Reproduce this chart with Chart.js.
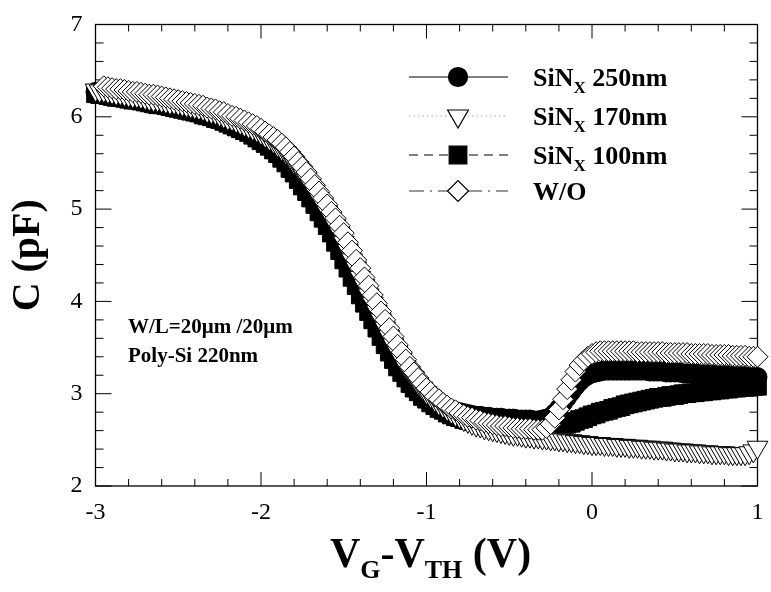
<!DOCTYPE html>
<html lang="en">
<head>
<meta charset="UTF-8">
<title>C-V curves, SiNx capping layers</title>
<style>
  html, body { margin: 0; padding: 0; background: #fff; }
  #box { width: 771px; height: 592px; }
  canvas { display: block; }
</style>
<script src="https://cdn.jsdelivr.net/npm/chart.js"></script>
</head>
<body>
<div id="box"><canvas id="cv" width="771" height="592"></canvas></div>
<script>
// gate sweep, V_G - V_TH (V)
const xValues = [
  -3,-2.975,-2.95,-2.925,-2.9,-2.875,-2.85,-2.825,
  -2.8,-2.775,-2.75,-2.725,-2.7,-2.675,-2.65,-2.625,
  -2.6,-2.575,-2.55,-2.525,-2.5,-2.475,-2.45,-2.425,
  -2.4,-2.375,-2.35,-2.325,-2.3,-2.275,-2.25,-2.225,
  -2.2,-2.175,-2.15,-2.125,-2.1,-2.075,-2.05,-2.025,
  -2,-1.975,-1.95,-1.925,-1.9,-1.875,-1.85,-1.825,
  -1.8,-1.775,-1.75,-1.725,-1.7,-1.675,-1.65,-1.625,
  -1.6,-1.575,-1.55,-1.525,-1.5,-1.475,-1.45,-1.425,
  -1.4,-1.375,-1.35,-1.325,-1.3,-1.275,-1.25,-1.225,
  -1.2,-1.175,-1.15,-1.125,-1.1,-1.075,-1.05,-1.025,
  -1,-0.975,-0.95,-0.925,-0.9,-0.875,-0.85,-0.825,
  -0.8,-0.775,-0.75,-0.725,-0.7,-0.675,-0.65,-0.625,
  -0.6,-0.575,-0.55,-0.525,-0.5,-0.475,-0.45,-0.425,
  -0.4,-0.375,-0.35,-0.325,-0.3,-0.275,-0.25,-0.225,
  -0.2,-0.175,-0.15,-0.125,-0.1,-0.075,-0.05,-0.025,
  0,0.025,0.05,0.075,0.1,0.125,0.15,0.175,
  0.2,0.225,0.25,0.275,0.3,0.325,0.35,0.375,
  0.4,0.425,0.45,0.475,0.5,0.525,0.55,0.575,
  0.6,0.625,0.65,0.675,0.7,0.725,0.75,0.775,
  0.8,0.825,0.85,0.875,0.9,0.925,0.95,0.975,
  1
];

// C (pF), SiNx 250nm
const c250 = [
  6.27,6.26,6.25,6.25,6.24,6.23,6.22,6.22,
  6.21,6.20,6.19,6.19,6.18,6.17,6.16,6.15,
  6.14,6.14,6.13,6.12,6.11,6.10,6.09,6.07,
  6.06,6.05,6.04,6.02,6.01,5.99,5.98,5.97,
  5.96,5.94,5.92,5.90,5.88,5.86,5.84,5.81,
  5.78,5.75,5.72,5.69,5.65,5.60,5.56,5.50,
  5.45,5.39,5.33,5.26,5.19,5.12,5.05,4.97,
  4.90,4.82,4.74,4.64,4.55,4.45,4.36,4.26,
  4.17,4.07,3.98,3.89,3.80,3.71,3.62,3.53,
  3.45,3.37,3.29,3.23,3.17,3.11,3.06,3.03,
  3.00,2.96,2.93,2.90,2.87,2.85,2.83,2.81,
  2.80,2.79,2.78,2.77,2.76,2.76,2.75,2.75,
  2.74,2.74,2.74,2.73,2.73,2.73,2.72,2.72,
  2.72,2.72,2.71,2.71,2.72,2.73,2.75,2.79,
  2.84,2.90,2.96,3.02,3.08,3.13,3.17,3.20,
  3.22,3.23,3.24,3.25,3.25,3.25,3.25,3.25,
  3.25,3.25,3.25,3.25,3.25,3.25,3.24,3.24,
  3.24,3.24,3.23,3.23,3.23,3.23,3.22,3.22,
  3.22,3.22,3.21,3.21,3.21,3.21,3.20,3.20,
  3.20,3.20,3.19,3.19,3.19,3.19,3.18,3.18,
  3.18
];

// C (pF), SiNx 170nm
const c170 = [
  6.29,6.28,6.28,6.27,6.26,6.25,6.25,6.24,
  6.23,6.22,6.22,6.21,6.20,6.19,6.18,6.18,
  6.17,6.16,6.15,6.15,6.14,6.13,6.12,6.11,
  6.10,6.09,6.08,6.06,6.05,6.04,6.02,6.00,
  5.98,5.97,5.95,5.93,5.91,5.89,5.87,5.85,
  5.82,5.79,5.76,5.73,5.69,5.65,5.61,5.56,
  5.50,5.45,5.39,5.33,5.26,5.19,5.12,5.05,
  4.97,4.90,4.82,4.74,4.64,4.55,4.45,4.36,
  4.26,4.17,4.07,3.98,3.89,3.80,3.71,3.62,
  3.53,3.45,3.37,3.29,3.23,3.17,3.11,3.06,
  3.01,2.97,2.93,2.89,2.86,2.83,2.80,2.77,
  2.75,2.72,2.70,2.68,2.66,2.65,2.63,2.62,
  2.61,2.60,2.59,2.58,2.57,2.56,2.56,2.55,
  2.54,2.54,2.53,2.53,2.52,2.52,2.51,2.51,
  2.50,2.50,2.49,2.49,2.48,2.48,2.47,2.47,
  2.46,2.46,2.46,2.45,2.45,2.45,2.44,2.44,
  2.44,2.43,2.43,2.43,2.42,2.42,2.42,2.41,
  2.41,2.41,2.40,2.40,2.39,2.39,2.39,2.38,
  2.38,2.38,2.37,2.37,2.37,2.36,2.36,2.36,
  2.36,2.35,2.35,2.35,2.35,2.35,2.36,2.38,
  2.42
];

// C (pF), SiNx 100nm
const c100 = [
  6.25,6.24,6.24,6.23,6.22,6.21,6.21,6.20,
  6.19,6.18,6.18,6.17,6.16,6.15,6.14,6.13,
  6.13,6.12,6.11,6.10,6.09,6.08,6.07,6.06,
  6.05,6.04,6.02,6.01,6.00,5.98,5.97,5.95,
  5.93,5.91,5.89,5.87,5.85,5.83,5.80,5.77,
  5.74,5.71,5.68,5.64,5.60,5.55,5.50,5.44,
  5.39,5.32,5.25,5.19,5.12,5.05,4.97,4.90,
  4.82,4.74,4.64,4.55,4.45,4.36,4.26,4.17,
  4.07,3.98,3.89,3.80,3.71,3.62,3.53,3.45,
  3.37,3.29,3.23,3.17,3.11,3.06,3.02,2.97,
  2.94,2.90,2.87,2.84,2.82,2.79,2.77,2.75,
  2.74,2.72,2.71,2.70,2.69,2.68,2.67,2.66,
  2.65,2.65,2.64,2.63,2.63,2.62,2.62,2.61,
  2.61,2.60,2.60,2.59,2.59,2.59,2.59,2.61,
  2.63,2.65,2.67,2.68,2.70,2.72,2.73,2.75,
  2.77,2.78,2.80,2.81,2.82,2.84,2.85,2.86,
  2.88,2.89,2.90,2.91,2.92,2.93,2.94,2.95,
  2.96,2.96,2.97,2.98,2.98,2.99,3.00,3.00,
  3.01,3.01,3.02,3.02,3.03,3.03,3.04,3.04,
  3.05,3.05,3.06,3.06,3.07,3.07,3.07,3.08,
  3.08
];

// C (pF), without SiNx (first two sweep points not shown)
const cWO = [
  null,null,6.33,6.32,6.31,6.30,6.30,6.29,
  6.28,6.27,6.27,6.26,6.25,6.24,6.24,6.23,
  6.22,6.21,6.20,6.19,6.18,6.17,6.16,6.15,
  6.14,6.13,6.12,6.10,6.09,6.08,6.06,6.05,
  6.03,6.01,6.00,5.98,5.96,5.94,5.92,5.90,
  5.87,5.84,5.81,5.78,5.75,5.71,5.67,5.62,
  5.57,5.51,5.46,5.40,5.33,5.26,5.19,5.12,
  5.05,4.97,4.90,4.82,4.74,4.64,4.55,4.45,
  4.36,4.26,4.17,4.07,3.98,3.89,3.80,3.71,
  3.62,3.53,3.45,3.37,3.29,3.23,3.17,3.11,
  3.06,3.02,2.97,2.94,2.90,2.87,2.84,2.82,
  2.79,2.77,2.75,2.74,2.72,2.71,2.69,2.68,
  2.67,2.66,2.65,2.65,2.64,2.63,2.63,2.62,
  2.62,2.62,2.61,2.61,2.61,2.63,2.67,2.74,
  2.83,2.94,3.05,3.15,3.24,3.31,3.36,3.40,
  3.43,3.45,3.46,3.46,3.46,3.46,3.46,3.46,
  3.46,3.46,3.46,3.45,3.45,3.45,3.45,3.45,
  3.45,3.45,3.44,3.44,3.44,3.44,3.44,3.44,
  3.43,3.43,3.43,3.43,3.43,3.42,3.42,3.42,
  3.42,3.42,3.41,3.41,3.41,3.41,3.40,3.40,
  3.40
];

const xTickLabels = ['-3', '-2', '-1', '0', '1'];
const yTickLabels = ['2', '3', '4', '5', '6', '7'];
// legend text: [main, subscript, rest]
const legendLabels = [
  ['SiN', 'X', ' 250nm'],
  ['SiN', 'X', ' 170nm'],
  ['SiN', 'X', ' 100nm'],
  ['W/O', '', '']
];
const noteLines = ['W/L=20\u03bcm /20\u03bcm', 'Poly-Si 220nm'];

const SERIF = '"Liberation Serif", "Times New Roman", serif';

// marker / line styles, same order as legend
const styles = [
  { data: c250, pointStyle: 'circle',   radius: 9.5,  rotation: 0,   fill: '#000', line: '#000', dash: [],            order: 4 },
  { data: c170, pointStyle: 'triangle', radius: 12,   rotation: 180, fill: '#fff', line: '#aaa', dash: [1.5, 3],      order: 2 },
  { data: c100, pointStyle: 'rect',     radius: 12.5, rotation: 0,   fill: '#000', line: '#000', dash: [9, 6],        order: 3 },
  { data: cWO,  pointStyle: 'rectRot',  radius: 10.5, rotation: 0,   fill: '#fff', line: '#333', dash: [15, 6, 2, 6], order: 1 }
];

function toPoints(arr) {
  return xValues.map((x, i) => ({ x: x, y: arr[i] }));
}

const datasets = styles.map((s, i) => ({
  label: legendLabels[i].join(''),
  data: toPoints(s.data),
  showLine: true,
  borderColor: s.line,
  borderWidth: 1,
  borderDash: s.dash,
  tension: 0,
  pointStyle: s.pointStyle,
  pointRadius: s.radius,
  pointRotation: s.rotation,
  pointBackgroundColor: s.fill,
  pointBorderColor: '#000',
  pointBorderWidth: 1,
  order: s.order,
  clip: false
}));

function seg(ctx, x1, y1, x2, y2) {
  ctx.beginPath(); ctx.moveTo(x1, y1); ctx.lineTo(x2, y2); ctx.stroke();
}

// frame with inward ticks on all four sides
const framePlugin = {
  id: 'frame',
  beforeDatasetsDraw(chart) {
    const { ctx, chartArea: a, scales: { x, y } } = chart;
    ctx.save();
    ctx.strokeStyle = '#000';
    ctx.lineWidth = 1.3;
    ctx.strokeRect(a.left, a.top, a.right - a.left, a.bottom - a.top);
    ctx.lineWidth = 1;
    for (let i = -15; i <= 5; i++) {
      const px = x.getPixelForValue(i / 5);
      const len = i % 5 === 0 ? 14 : 7;
      seg(ctx, px, a.bottom, px, a.bottom - len);
      seg(ctx, px, a.top, px, a.top + len);
    }
    for (let i = 10; i <= 35; i++) {
      const py = y.getPixelForValue(i / 5);
      const len = i % 5 === 0 ? 16 : 8;
      seg(ctx, a.left, py, a.left + len, py);
      seg(ctx, a.right, py, a.right - len, py);
    }
    ctx.restore();
  },
  afterDraw(chart) {
    const { ctx, chartArea: a, scales: { x, y } } = chart;
    ctx.save();
    ctx.fillStyle = '#000';

    // tick labels
    ctx.font = '24px ' + SERIF;
    ctx.textAlign = 'center';
    ctx.textBaseline = 'middle';
    xTickLabels.forEach(t => ctx.fillText(t, x.getPixelForValue(Number(t)), a.bottom + 27));
    ctx.textAlign = 'right';
    yTickLabels.forEach(t => ctx.fillText(t, a.left - 13, y.getPixelForValue(Number(t))));

    // y title
    ctx.save();
    ctx.translate(29, (a.top + a.bottom) / 2);
    ctx.rotate(-Math.PI / 2);
    ctx.font = 'bold 40px ' + SERIF;
    ctx.textAlign = 'center';
    ctx.textBaseline = 'middle';
    ctx.fillText('C (pF)', 0, 0);
    ctx.restore();

    // x title with subscripts
    const main = 'bold 42px ' + SERIF, sub = 'bold 26px ' + SERIF;
    const parts = [['V', main, 0], ['G', sub, 11], ['-', main, 0], ['V', main, 0], ['TH', sub, 11], [' (V)', main, 0]];
    let total = 0;
    parts.forEach(p => { ctx.font = p[1]; total += ctx.measureText(p[0]).width; });
    let cx = (a.left + a.right) / 2 + 4 - total / 2;
    const base = 567;
    ctx.textAlign = 'left';
    ctx.textBaseline = 'alphabetic';
    parts.forEach(p => { ctx.font = p[1]; ctx.fillText(p[0], cx, base + p[2]); cx += ctx.measureText(p[0]).width; });

    // legend
    const rows = [77, 116, 155, 191];
    styles.forEach((s, i) => {
      const ry = rows[i];
      ctx.save();
      ctx.strokeStyle = s.line;
      ctx.lineWidth = 1;
      ctx.setLineDash(s.dash);
      seg(ctx, 409, ry, 508, ry);
      ctx.restore();
      ctx.fillStyle = s.fill;
      ctx.strokeStyle = '#000';
      ctx.lineWidth = 1.2;
      Chart.helpers.drawPoint(ctx, { pointStyle: s.pointStyle, radius: s.radius, rotation: s.rotation, borderWidth: 1.2 }, 458, ry);
      ctx.fillStyle = '#000';
      const lab = legendLabels[i];
      let tx = 533;
      ctx.font = 'bold 26px ' + SERIF;
      ctx.fillText(lab[0], tx, ry + 9);
      tx += ctx.measureText(lab[0]).width;
      if (lab[1]) {
        ctx.font = 'bold 17px ' + SERIF;
        ctx.fillText(lab[1], tx, ry + 16);
        tx += ctx.measureText(lab[1]).width;
      }
      ctx.font = 'bold 26px ' + SERIF;
      ctx.fillText(lab[2], tx, ry + 9);
    });

    // device note
    ctx.font = 'bold 21px ' + SERIF;
    ctx.textBaseline = 'middle';
    ctx.fillText(noteLines[0], 128, 328);
    ctx.fillText(noteLines[1], 128, 357);
    ctx.restore();
  }
};

new Chart(document.getElementById('cv'), {
  type: 'scatter',
  data: { datasets: datasets },
  options: {
    responsive: false,
    animation: false,
    devicePixelRatio: 1,
    events: [],
    layout: { padding: { left: 95.5, top: 24.5, right: 4, bottom: 106 } },
    scales: {
      x: { type: 'linear', min: -3, max: 1, display: false },
      y: { type: 'linear', min: 2, max: 7, display: false }
    },
    plugins: { legend: { display: false }, tooltip: { enabled: false } }
  },
  plugins: [framePlugin]
});
</script>
</body>
</html>
